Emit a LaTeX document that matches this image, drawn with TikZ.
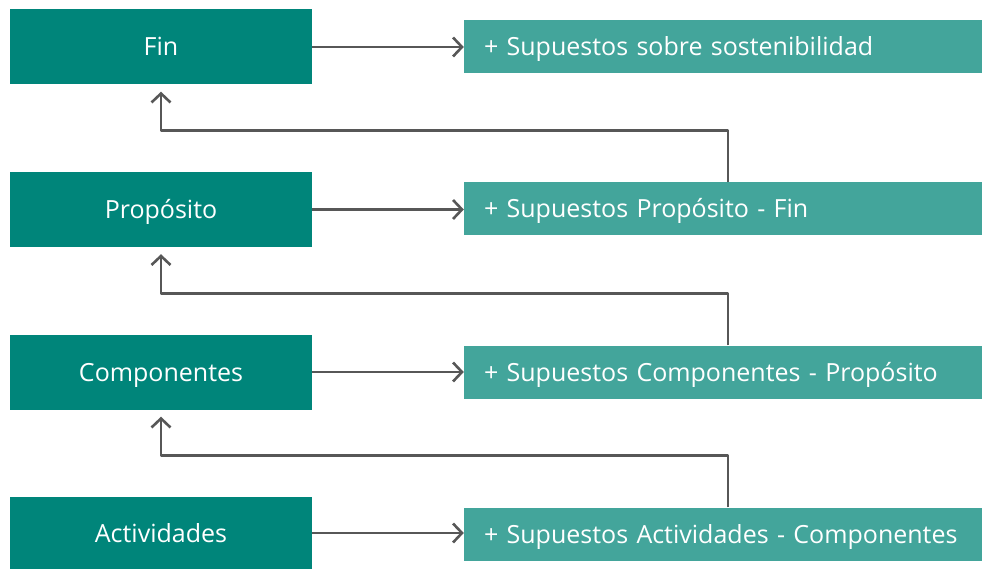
\documentclass[tikz,border=0pt]{standalone}
\usepackage{fontspec}
\setmainfont{Open Sans}
\usetikzlibrary{arrows.meta}
\definecolor{tealdark}{HTML}{00857A}
\definecolor{teallight}{HTML}{43A59B}
\definecolor{linegray}{HTML}{575757}
\begin{document}
\begin{tikzpicture}[x=1pt,y=-1pt,line join=round,
  nivel/.style={fill=tealdark,text=white,minimum width=302pt,minimum height=75pt,inner sep=0pt,text height=18pt,text depth=0pt,font=\fontsize{25}{30}\selectfont},
  supuesto/.style={fill=teallight,text=white,minimum width=518pt,minimum height=53pt,inner xsep=20pt,inner ysep=0pt,text width=478pt,text height=18pt,text depth=0pt,align=left,font=\fontsize{25}{30}\selectfont},
  flecha/.style={draw=linegray,line width=2.6pt,-{Straight Barb[length=9pt,width=19pt]}}]
\useasboundingbox (0,0) rectangle (982,569);
% niveles y supuestos
\node[nivel] (fin) at (161,47) {Fin};
\node[nivel] (prop) at (161,209.5) {Propósito};
\node[nivel] (comp) at (161,372) {Componentes};
\node[nivel,minimum height=72pt] (act) at (161,533) {Actividades};
\node[supuesto] (sfin) at (723,46.5) {+ Supuestos sobre sostenibilidad};
\node[supuesto] (sprop) at (723,209) {+ Supuestos Propósito - Fin};
\node[supuesto] (scomp) at (723,372) {+ Supuestos Componentes - Propósito};
\node[supuesto] (sact) at (723,534) {+ Supuestos Actividades - Componentes};
% flechas
\foreach \a/\b in {fin/sfin,prop/sprop,comp/scomp,act/sact}
  \draw[flecha] (\a.east) -- (\a.east -| \b.west);
\foreach \s/\t in {sprop/fin,scomp/prop,sact/comp}
  \draw[flecha] ([xshift=5pt]\s.north) |- ([yshift=-46pt]\t.south) -- ([yshift=-7pt]\t.south);
\end{tikzpicture}
\end{document}
